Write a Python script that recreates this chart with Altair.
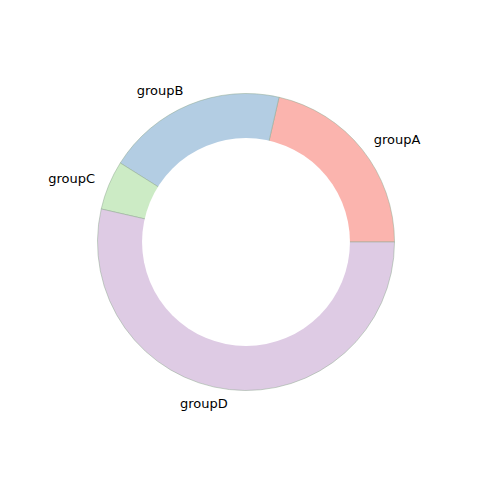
import math
import altair as alt
import pandas as pd

names = ["groupA", "groupB", "groupC", "groupD"]
sizes = [12, 11, 3, 30]
colors = ["#fbb4ae", "#b3cde3", "#ccebc5", "#decbe4"]

df = pd.DataFrame({"group": names, "value": sizes})

cx, cy = 238, 234
R = 148.5
theta_scale = alt.Scale(range=[math.pi / 2, math.pi / 2 - 2 * math.pi])

base = alt.Chart(df).encode(
    theta=alt.Theta("value:Q", stack=True, scale=theta_scale),
    order=alt.Order("group:N", sort="ascending"),
    x=alt.value(cx),
    y=alt.value(cy),
)

arcs = base.mark_arc(
    outerRadius=R, innerRadius=0, stroke="#8fa890", strokeWidth=0.5
).encode(
    color=alt.Color("group:N", scale=alt.Scale(domain=names, range=colors), legend=None)
)

hole = (
    alt.Chart(df)
    .transform_aggregate(n="count()")
    .mark_arc(theta=0, theta2=2 * math.pi, outerRadius=R * 0.7, innerRadius=0,
              fill="white", stroke=None)
    .encode(x=alt.value(cx), y=alt.value(cy))
)

font = "DejaVu Sans"
lab_left = base.mark_text(
    radius=R * 1.1, align="left", baseline="middle", font=font, fontSize=13, color="black"
).encode(
    text=alt.condition("datum.group == 'groupA'", alt.Text("group:N"), alt.value(""))
)
lab_right = base.mark_text(
    radius=R * 1.1, align="right", baseline="middle", font=font, fontSize=13, color="black"
).encode(
    text=alt.condition("datum.group != 'groupA'", alt.Text("group:N"), alt.value(""))
)

chart = alt.layer(arcs, hole, lab_left, lab_right).properties(
    width=464, height=464, padding=0, autosize=alt.AutoSizeParams(type="none")
).configure_view(stroke=None)

chart.save("out.html", embed_options={"renderer": "svg", "actions": False})
